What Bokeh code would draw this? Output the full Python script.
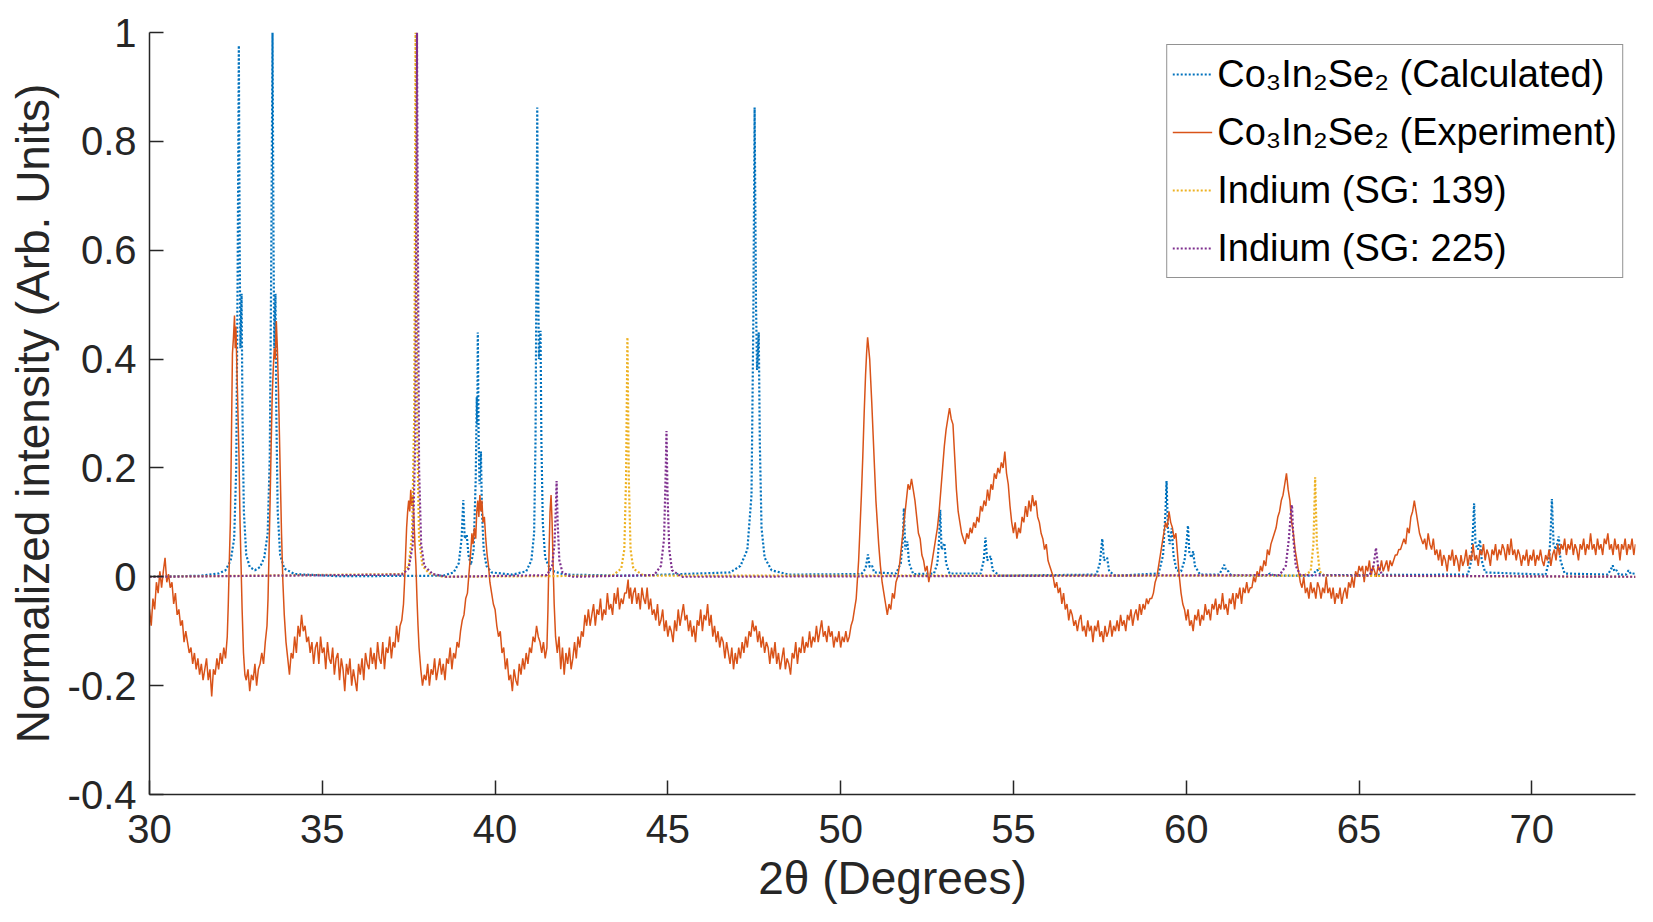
from bokeh.plotting import figure
from bokeh.models import Range1d, FixedTicker, CustomJSTickFormatter, Legend, LegendItem
from bokeh.embed import file_html
from bokeh.resources import INLINE

# ---------------- data ----------------
x_ticks = [30, 35, 40, 45, 50, 55, 60, 65, 70]
y_ticks = [-0.4, -0.2, 0, 0.2, 0.4, 0.6, 0.8, 1.0]

series_labels = ["Co\u2083In\u2082Se\u2082 (Calculated)", "Co\u2083In\u2082Se\u2082 (Experiment)",
                 "Indium (SG: 139)", "Indium (SG: 225)"]

# Co3In2Se2 calculated pattern (2theta, intensity)
calc_xy = [
    (30.0, 0.0), (31.5, 0.002), (32.0, 0.006), (32.2, 0.012), (32.35, 0.03), (32.45, 0.07),
    (32.51, 0.2), (32.55, 0.55), (32.585, 0.976), (32.61, 0.6), (32.63, 0.42), (32.665, 0.52),
    (32.69, 0.3), (32.73, 0.12), (32.8, 0.04), (32.9, 0.018), (33.05, 0.012), (33.2, 0.018),
    (33.32, 0.035), (33.42, 0.08), (33.48, 0.22), (33.52, 0.55), (33.56, 1.0), (33.59, 0.6),
    (33.61, 0.42), (33.645, 0.52), (33.67, 0.3), (33.71, 0.12), (33.78, 0.04), (33.9, 0.015),
    (34.2, 0.005), (35.5, 0.001), (38.5, 0.002), (38.8, 0.008), (38.95, 0.025), (39.03, 0.07),
    (39.08, 0.141), (39.12, 0.07), (39.18, 0.077), (39.23, 0.04), (39.3, 0.022), (39.38, 0.05),
    (39.44, 0.18), (39.47, 0.33), (39.485, 0.28), (39.50, 0.449), (39.525, 0.25), (39.55, 0.17),
    (39.59, 0.23), (39.62, 0.12), (39.67, 0.05), (39.75, 0.02), (39.9, 0.008), (40.5, 0.004),
    (40.9, 0.01), (41.05, 0.03), (41.13, 0.08), (41.17, 0.25), (41.2, 0.6), (41.22, 0.862),
    (41.245, 0.55), (41.27, 0.4), (41.315, 0.452), (41.34, 0.25), (41.38, 0.1), (41.45, 0.035),
    (41.6, 0.012), (42.0, 0.004), (44.0, 0.002), (46.8, 0.008), (47.1, 0.02), (47.3, 0.05),
    (47.42, 0.15), (47.47, 0.45), (47.51, 0.862), (47.55, 0.5), (47.58, 0.38), (47.63, 0.449),
    (47.66, 0.25), (47.71, 0.09), (47.8, 0.035), (48.0, 0.012), (48.5, 0.004), (50.6, 0.005),
    (50.72, 0.015), (50.79, 0.041), (50.84, 0.018), (50.91, 0.02), (50.97, 0.008), (51.6, 0.006),
    (51.74, 0.025), (51.8, 0.07), (51.83, 0.126), (51.87, 0.05), (51.93, 0.065), (51.98, 0.025),
    (52.1, 0.005), (52.7, 0.006), (52.8, 0.025), (52.85, 0.07), (52.88, 0.123), (52.92, 0.05),
    (53.0, 0.062), (53.05, 0.025), (53.15, 0.006), (54.05, 0.006), (54.14, 0.03), (54.19, 0.072),
    (54.24, 0.03), (54.34, 0.038), (54.4, 0.012), (54.6, 0.002), (57.4, 0.004), (57.5, 0.025),
    (57.57, 0.07), (57.62, 0.03), (57.71, 0.035), (57.77, 0.01), (57.95, 0.002), (59.2, 0.006),
    (59.33, 0.04), (59.4, 0.12), (59.43, 0.176), (59.47, 0.09), (59.52, 0.06), (59.58, 0.089),
    (59.63, 0.04), (59.72, 0.012), (59.85, 0.01), (59.95, 0.03), (60.02, 0.07), (60.05, 0.094),
    (60.09, 0.045), (60.15, 0.035), (60.2, 0.047), (60.25, 0.02), (60.4, 0.004), (60.95, 0.004),
    (61.05, 0.015), (61.1, 0.022), (61.15, 0.012), (61.22, 0.01), (61.3, 0.002), (62.3, 0.002),
    (62.43, 0.006), (62.55, 0.002), (63.65, 0.002), (63.74, 0.01), (63.79, 0.013), (63.9, 0.003),
    (68.15, 0.004), (68.25, 0.03), (68.3, 0.09), (68.33, 0.135), (68.37, 0.06), (68.44, 0.05),
    (68.5, 0.068), (68.55, 0.03), (68.65, 0.008), (70.4, 0.004), (70.5, 0.03), (70.55, 0.09),
    (70.58, 0.143), (70.63, 0.06), (70.7, 0.05), (70.78, 0.074), (70.83, 0.03), (70.95, 0.006),
    (72.2, 0.004), (72.3, 0.015), (72.34, 0.021), (72.39, 0.01), (72.45, 0.012), (72.52, 0.004),
    (72.72, 0.004), (72.8, 0.012), (72.87, 0.005), (72.95, 0.006), (73.0, 0.007),
]

# Co3In2Se2 measured pattern (2theta, intensity)
exp_xy = [
    (30.00,-0.06),(30.05,-0.09),(30.10,-0.04),(30.15,-0.06),(30.20,-0.01),(30.25,-0.03),(30.30,0.01),
    (30.35,-0.02),(30.40,0.01),(30.45,0.035),(30.50,-0.01),
    (30.55,0.005),(30.60,-0.02),(30.65,-0.01),(30.70,-0.05),(30.75,-0.03),(30.80,-0.07),(30.85,-0.06),
    (30.90,-0.09),(30.95,-0.08),(31.00,-0.12),(31.05,-0.10),(31.10,-0.12),(31.15,-0.14),(31.20,-0.13),
    (31.25,-0.16),(31.30,-0.14),(31.35,-0.17),(31.40,-0.15),(31.45,-0.18),(31.50,-0.16),(31.55,-0.19),
    (31.60,-0.17),(31.65,-0.15),(31.70,-0.19),(31.75,-0.17),(31.80,-0.22),(31.85,-0.17),(31.90,-0.18),
    (31.95,-0.15),(32.00,-0.17),(32.05,-0.14),(32.10,-0.16),(32.15,-0.13),(32.20,-0.15),(32.25,-0.11),
    (32.28,-0.05),(32.31,0.03),(32.34,0.10),(32.37,0.25),(32.40,0.41),(32.43,0.44),(32.46,0.48),
    (32.48,0.42),(32.50,0.46),(32.53,0.38),(32.56,0.30),(32.59,0.22),(32.62,0.10),(32.65,0.02),
    (32.68,-0.06),
    (32.72,-0.14),(32.76,-0.18),(32.80,-0.19),(32.85,-0.17),(32.90,-0.21),(32.95,-0.18),(33.00,-0.19),
    (33.05,-0.16),(33.10,-0.20),(33.15,-0.17),(33.20,-0.16),(33.25,-0.14),(33.30,-0.16),(33.35,-0.12),
    (33.40,-0.09),(33.43,-0.04),
    (33.46,0.05),(33.49,0.14),(33.52,0.24),(33.55,0.33),(33.58,0.38),(33.61,0.42),(33.64,0.40),
    (33.67,0.47),(33.70,0.42),(33.73,0.35),(33.76,0.26),(33.79,0.17),(33.82,0.08),(33.86,-0.01),
    (33.90,-0.07),(33.95,-0.12),
    (34.00,-0.15),(34.05,-0.18),(34.10,-0.14),(34.15,-0.15),(34.20,-0.11),(34.25,-0.14),(34.30,-0.09),
    (34.35,-0.11),(34.40,-0.07),(34.45,-0.10),(34.50,-0.09),(34.55,-0.12),(34.60,-0.11),(34.65,-0.14),
    (34.70,-0.12),(34.75,-0.16),(34.80,-0.13),(34.85,-0.12),(34.90,-0.16),(34.95,-0.11),(35.00,-0.14),
    (35.05,-0.13),(35.10,-0.17),(35.15,-0.12),(35.20,-0.15),(35.25,-0.16),(35.30,-0.13),(35.35,-0.18),
    (35.40,-0.15),(35.45,-0.14),(35.50,-0.19),(35.55,-0.15),(35.60,-0.17),(35.65,-0.21),(35.70,-0.16),
    (35.75,-0.18),(35.80,-0.15),(35.85,-0.20),(35.90,-0.17),(35.95,-0.19),(36.00,-0.21),(36.05,-0.16),
    (36.10,-0.18),(36.15,-0.15),(36.20,-0.19),(36.25,-0.14),(36.30,-0.16),(36.35,-0.17),(36.40,-0.13),
    (36.45,-0.16),(36.50,-0.14),(36.55,-0.17),(36.60,-0.12),(36.65,-0.15),(36.70,-0.16),(36.75,-0.12),
    (36.80,-0.17),(36.85,-0.13),(36.90,-0.14),(36.95,-0.11),(37.00,-0.15),(37.05,-0.12),(37.10,-0.13),
    (37.15,-0.09),(37.20,-0.12),(37.25,-0.09),(37.30,-0.08),(37.35,-0.05),
    (37.38,-0.01),(37.41,0.04),(37.44,0.09),(37.47,0.12),(37.50,0.14),(37.53,0.12),(37.56,0.16),
    (37.59,0.13),(37.62,0.15),(37.65,0.11),(37.68,0.06),(37.71,0.02),(37.74,-0.04),(37.77,-0.09),
    (37.80,-0.13),(37.85,-0.17),(37.90,-0.20),(37.95,-0.18),(38.00,-0.19),(38.05,-0.16),(38.10,-0.20),
    (38.15,-0.17),(38.20,-0.18),(38.25,-0.15),(38.30,-0.19),(38.35,-0.17),(38.40,-0.15),(38.45,-0.18),
    (38.50,-0.16),(38.55,-0.19),(38.60,-0.15),(38.65,-0.16),(38.70,-0.13),(38.75,-0.17),(38.80,-0.14),
    (38.85,-0.15),(38.90,-0.12),(38.95,-0.13),(39.00,-0.10),(39.05,-0.08),
    (39.10,-0.07),(39.15,-0.04),(39.20,-0.03),(39.25,0.01),(39.30,0.05),(39.33,0.08),(39.36,0.06),
    (39.40,0.09),(39.44,0.07),(39.47,0.12),(39.50,0.14),(39.53,0.11),(39.56,0.15),(39.59,0.12),
    (39.62,0.14),(39.65,0.10),(39.69,0.11),(39.73,0.07),(39.77,0.04),(39.81,0.02),(39.85,-0.01),
    (39.90,-0.03),(39.95,-0.05),
    (40.00,-0.06),(40.05,-0.09),(40.10,-0.11),(40.15,-0.10),(40.20,-0.14),(40.25,-0.13),(40.30,-0.17),
    (40.35,-0.15),(40.40,-0.19),(40.45,-0.18),(40.50,-0.21),(40.55,-0.17),(40.60,-0.19),(40.65,-0.20),
    (40.70,-0.16),(40.75,-0.18),(40.80,-0.15),(40.85,-0.17),(40.90,-0.14),(40.95,-0.16),(41.00,-0.13),
    (41.05,-0.14),(41.10,-0.11),(41.15,-0.12),(41.20,-0.09),(41.25,-0.11),(41.30,-0.12),(41.35,-0.14),
    (41.40,-0.12),(41.45,-0.15),(41.50,-0.13),
    (41.53,-0.06),(41.56,0.04),(41.59,0.12),(41.62,0.15),(41.65,0.10),(41.68,0.02),(41.71,-0.05),
    (41.75,-0.11),(41.80,-0.14),(41.85,-0.11),(41.90,-0.17),(41.95,-0.13),
    (42.00,-0.18),(42.05,-0.14),(42.10,-0.16),(42.15,-0.13),(42.20,-0.17),(42.25,-0.15),(42.30,-0.12),
    (42.35,-0.15),(42.40,-0.11),(42.45,-0.13),(42.50,-0.10),(42.55,-0.11),(42.60,-0.07),(42.65,-0.09),
    (42.70,-0.06),(42.75,-0.09),(42.80,-0.07),(42.85,-0.05),(42.90,-0.09),(42.95,-0.06),(43.00,-0.07),
    (43.05,-0.04),(43.10,-0.08),(43.15,-0.06),(43.20,-0.07),(43.25,-0.03),(43.30,-0.06),(43.35,-0.05),
    (43.40,-0.07),(43.45,-0.03),(43.50,-0.05),(43.55,-0.02),(43.60,-0.06),(43.65,-0.04),(43.70,-0.05),
    (43.75,-0.03),(43.80,-0.03),
    (43.85,-0.005),(43.88,-0.04),(43.92,-0.02),(43.96,-0.05),(44.00,-0.03),(44.05,-0.02),(44.10,-0.05),
    (44.15,-0.03),(44.20,-0.06),(44.25,-0.02),(44.30,-0.04),(44.35,-0.05),(44.40,-0.02),(44.45,-0.06),
    (44.50,-0.04),(44.55,-0.07),(44.60,-0.06),(44.65,-0.08),(44.70,-0.05),(44.75,-0.09),(44.80,-0.08),
    (44.85,-0.06),(44.90,-0.10),(44.95,-0.08),(45.00,-0.11),(45.05,-0.09),(45.10,-0.10),(45.15,-0.12),
    (45.20,-0.08),(45.25,-0.10),(45.30,-0.06),(45.35,-0.09),(45.40,-0.07),(45.45,-0.05),(45.50,-0.08),
    (45.55,-0.07),(45.60,-0.10),(45.65,-0.08),(45.70,-0.11),(45.75,-0.09),(45.80,-0.12),(45.85,-0.08),
    (45.90,-0.09),(45.95,-0.06),(46.00,-0.10),(46.05,-0.07),(46.10,-0.08),(46.15,-0.05),(46.20,-0.09),
    (46.25,-0.07),(46.30,-0.11),(46.35,-0.09),(46.40,-0.12),(46.45,-0.10),(46.50,-0.13),(46.55,-0.11),
    (46.60,-0.12),(46.65,-0.15),(46.70,-0.12),(46.75,-0.14),(46.80,-0.16),(46.85,-0.13),(46.90,-0.17),
    (46.95,-0.14),(47.00,-0.16),(47.05,-0.13),(47.10,-0.15),(47.15,-0.12),(47.20,-0.14),(47.25,-0.11),
    (47.30,-0.13),(47.35,-0.10),(47.40,-0.11),(47.45,-0.08),(47.50,-0.10),(47.55,-0.09),(47.60,-0.12),
    (47.65,-0.10),(47.70,-0.13),(47.75,-0.11),(47.80,-0.14),(47.85,-0.12),(47.90,-0.13),(47.95,-0.16),
    (48.00,-0.13),(48.05,-0.15),(48.10,-0.12),(48.15,-0.16),(48.20,-0.14),(48.25,-0.17),(48.30,-0.15),
    (48.35,-0.13),(48.40,-0.17),(48.45,-0.15),(48.50,-0.16),(48.55,-0.18),(48.60,-0.14),(48.65,-0.15),
    (48.70,-0.12),(48.75,-0.16),(48.80,-0.13),(48.85,-0.14),(48.90,-0.11),(48.95,-0.14),(49.00,-0.12),
    (49.05,-0.13),(49.10,-0.10),(49.15,-0.13),(49.20,-0.11),(49.25,-0.12),(49.30,-0.09),(49.35,-0.12),
    (49.40,-0.10),(49.45,-0.08),(49.50,-0.11),(49.55,-0.10),(49.60,-0.12),(49.65,-0.09),(49.70,-0.11),
    (49.75,-0.10),(49.80,-0.13),(49.85,-0.11),(49.90,-0.12),(49.95,-0.10),(50.00,-0.13),(50.05,-0.11),
    (50.10,-0.12),(50.15,-0.10),(50.20,-0.12),(50.25,-0.11),(50.30,-0.09),
    (50.35,-0.08),(50.40,-0.06),(50.45,-0.04),(50.48,-0.01),(50.52,0.03),(50.56,0.09),
    (50.60,0.15),(50.64,0.22),(50.68,0.30),(50.72,0.37),(50.75,0.41),(50.78,0.44),(50.81,0.42),
    (50.84,0.40),(50.87,0.36),(50.90,0.32),(50.94,0.26),(50.98,0.20),(51.02,0.14),(51.06,0.10),
    (51.10,0.06),(51.15,0.02),(51.20,-0.01),(51.25,-0.03),(51.30,-0.05),(51.35,-0.07),(51.40,-0.05),
    (51.45,-0.06),(51.50,-0.03),(51.55,-0.04),(51.60,-0.01),(51.65,0.00),(51.70,0.02),(51.75,0.05),
    (51.80,0.08),(51.85,0.11),(51.90,0.14),(51.95,0.17),(52.00,0.16),(52.05,0.18),(52.10,0.16),
    (52.15,0.14),(52.20,0.11),(52.25,0.08),(52.30,0.07),(52.35,0.04),(52.40,0.03),(52.45,0.01),
    (52.50,0.02),(52.55,-0.01),(52.60,0.01),(52.65,0.03),(52.70,0.05),(52.75,0.07),(52.80,0.09),
    (52.85,0.12),(52.90,0.16),(52.95,0.20),(53.00,0.24),(53.05,0.27),(53.10,0.29),(53.15,0.31),
    (53.20,0.29),(53.25,0.28),(53.30,0.22),(53.35,0.16),(53.40,0.12),(53.45,0.10),(53.50,0.08),
    (53.55,0.07),(53.60,0.06),(53.65,0.08),(53.70,0.07),(53.75,0.09),(53.80,0.08),(53.85,0.10),
    (53.90,0.09),(53.95,0.11),(54.00,0.10),(54.05,0.13),(54.10,0.12),(54.15,0.14),(54.20,0.13),
    (54.25,0.16),(54.30,0.14),(54.35,0.17),(54.40,0.16),(54.45,0.19),(54.50,0.18),(54.55,0.20),
    (54.60,0.19),(54.65,0.21),(54.70,0.20),(54.75,0.23),(54.80,0.19),(54.85,0.17),(54.90,0.13),
    (54.95,0.10),(55.00,0.08),(55.05,0.10),(55.10,0.07),(55.15,0.09),(55.20,0.08),(55.25,0.11),
    (55.30,0.10),(55.35,0.13),(55.40,0.11),(55.45,0.14),(55.50,0.12),(55.55,0.15),(55.60,0.13),
    (55.65,0.14),(55.70,0.11),(55.75,0.10),(55.80,0.08),(55.85,0.07),(55.90,0.05),(55.95,0.06),
    (56.00,0.03),(56.05,0.02),(56.10,0.01),(56.15,0.00),(56.20,-0.02),(56.25,-0.01),(56.30,-0.03),
    (56.35,-0.02),
    (56.40,-0.05),(56.45,-0.03),(56.50,-0.06),(56.55,-0.05),(56.60,-0.08),(56.65,-0.06),(56.70,-0.07),
    (56.75,-0.09),(56.80,-0.08),(56.85,-0.10),(56.90,-0.08),(56.95,-0.07),(57.00,-0.10),(57.05,-0.09),
    (57.10,-0.11),(57.15,-0.08),(57.20,-0.10),(57.25,-0.09),(57.30,-0.12),(57.35,-0.09),(57.40,-0.10),
    (57.45,-0.08),(57.50,-0.11),(57.55,-0.10),(57.60,-0.12),(57.65,-0.09),(57.70,-0.11),(57.75,-0.10),
    (57.80,-0.08),(57.85,-0.11),(57.90,-0.09),(57.95,-0.10),(58.00,-0.08),(58.05,-0.10),(58.10,-0.07),
    (58.15,-0.09),(58.20,-0.08),(58.25,-0.10),(58.30,-0.07),(58.35,-0.08),(58.40,-0.06),(58.45,-0.09),
    (58.50,-0.07),(58.55,-0.06),(58.60,-0.08),(58.65,-0.05),(58.70,-0.07),(58.75,-0.05),(58.80,-0.06),
    (58.85,-0.04),(58.90,-0.05),(58.95,-0.04),
    (59.00,-0.04),(59.05,-0.03),(59.10,-0.01),(59.15,0.00),(59.20,0.02),(59.25,0.04),(59.30,0.06),
    (59.35,0.08),(59.40,0.10),(59.45,0.09),(59.50,0.12),(59.55,0.10),(59.60,0.09),(59.65,0.07),
    (59.70,0.08),(59.75,0.04),(59.80,0.00),(59.85,-0.03),(59.90,-0.05),(59.95,-0.06),
    (60.00,-0.08),(60.05,-0.06),(60.10,-0.09),(60.15,-0.08),(60.20,-0.10),(60.25,-0.07),(60.30,-0.08),
    (60.35,-0.06),(60.40,-0.09),(60.45,-0.07),(60.50,-0.08),(60.55,-0.05),(60.60,-0.07),(60.65,-0.06),
    (60.70,-0.08),(60.75,-0.05),(60.80,-0.06),(60.85,-0.04),(60.90,-0.07),(60.95,-0.05),(61.00,-0.06),
    (61.05,-0.03),(61.10,-0.06),(61.15,-0.05),(61.20,-0.07),(61.25,-0.04),(61.30,-0.05),(61.35,-0.03),
    (61.40,-0.06),(61.45,-0.03),(61.50,-0.04),(61.55,-0.02),(61.60,-0.05),(61.65,-0.02),(61.70,-0.03),
    (61.75,-0.01),(61.80,-0.03),(61.85,-0.02),(61.90,-0.02),
    (61.95,0.00),(62.00,-0.01),(62.05,0.01),(62.10,0.00),(62.15,0.02),(62.20,0.01),(62.25,0.03),
    (62.30,0.02),(62.35,0.05),(62.40,0.04),(62.45,0.06),(62.50,0.07),(62.55,0.08),(62.60,0.09),
    (62.65,0.11),(62.70,0.12),(62.75,0.14),(62.80,0.15),(62.85,0.17),(62.90,0.19),(62.95,0.16),
    (63.00,0.14),(63.05,0.10),(63.10,0.08),(63.15,0.05),(63.20,0.03),(63.25,0.01),(63.30,-0.01),
    (63.35,-0.02),(63.40,0.00),(63.45,-0.03),(63.50,-0.02),(63.55,-0.04),(63.60,-0.01),(63.65,-0.03),
    (63.70,-0.02),(63.75,-0.04),(63.80,-0.01),(63.85,-0.02),(63.90,-0.04),(63.95,-0.02),(64.00,-0.03),
    (64.05,0.00),(64.10,-0.03),(64.15,-0.02),(64.20,-0.04),(64.25,-0.02),(64.30,-0.05),(64.35,-0.03),
    (64.40,-0.04),(64.45,-0.02),(64.50,-0.05),(64.55,-0.03),(64.60,-0.02),(64.65,-0.04),(64.70,-0.01),
    (64.75,-0.02),(64.80,0.00),(64.85,-0.02),(64.90,0.01),(64.95,0.00),(65.00,0.02),(65.05,0.01),
    (65.10,0.02),(65.15,-0.01),(65.20,0.02),(65.25,0.01),(65.30,0.03),(65.35,0.00),(65.40,0.02),
    (65.45,0.01),(65.50,0.00),(65.55,0.02),(65.60,0.01),(65.65,0.03),(65.70,0.01),(65.75,0.02),
    (65.80,0.03),(65.85,0.01),(65.90,0.03),(65.95,0.02),
    (66.00,0.03),(66.05,0.04),(66.10,0.04),(66.15,0.05),(66.20,0.05),(66.25,0.06),(66.30,0.07),
    (66.35,0.06),(66.40,0.09),(66.45,0.08),(66.50,0.11),(66.55,0.12),(66.60,0.14),(66.65,0.12),
    (66.70,0.10),(66.75,0.08),(66.80,0.07),
    (66.85,0.06),(66.90,0.07),(66.95,0.05),(67.00,0.08),(67.05,0.06),(67.10,0.05),(67.15,0.07),
    (67.20,0.04),(67.25,0.05),(67.30,0.03),(67.35,0.05),(67.40,0.02),(67.45,0.04),(67.50,0.03),
    (67.55,0.01),(67.60,0.04),(67.65,0.03),(67.70,0.05),(67.75,0.02),(67.80,0.04),(67.85,0.03),
    (67.90,0.01),(67.95,0.04),(68.00,0.02),(68.05,0.03),(68.10,0.05),(68.15,0.02),(68.20,0.04),
    (68.25,0.03),(68.30,0.06),(68.35,0.03),(68.40,0.04),(68.45,0.02),(68.50,0.05),(68.55,0.04),
    (68.60,0.06),(68.65,0.03),(68.70,0.05),(68.75,0.04),(68.80,0.02),(68.85,0.05),(68.90,0.04),
    (68.95,0.06),(69.00,0.03),(69.05,0.05),(69.10,0.04),(69.15,0.06),(69.20,0.05),(69.25,0.03),
    (69.30,0.06),(69.35,0.04),(69.40,0.07),(69.45,0.04),(69.50,0.05),(69.55,0.03),(69.60,0.05),
    (69.65,0.04),(69.70,0.02),(69.75,0.04),(69.80,0.03),(69.85,0.05),(69.90,0.02),(69.95,0.04),
    (70.00,0.03),(70.05,0.05),(70.10,0.02),(70.15,0.04),(70.20,0.03),(70.25,0.05),(70.30,0.03),
    (70.35,0.02),(70.40,0.04),(70.45,0.03),(70.50,0.05),(70.55,0.02),(70.60,0.04),(70.65,0.05),
    (70.70,0.03),(70.75,0.06),(70.80,0.04),(70.85,0.06),(70.90,0.05),(70.95,0.07),(71.00,0.04),
    (71.05,0.06),(71.10,0.05),(71.15,0.07),(71.20,0.04),(71.25,0.06),(71.30,0.05),(71.35,0.03),
    (71.40,0.06),(71.45,0.05),(71.50,0.07),(71.55,0.04),(71.60,0.06),(71.65,0.05),(71.70,0.08),
    (71.75,0.05),(71.80,0.06),(71.85,0.04),(71.90,0.07),(71.95,0.05),(72.00,0.06),(72.05,0.04),
    (72.10,0.07),(72.15,0.06),(72.20,0.08),(72.25,0.05),(72.30,0.06),(72.35,0.04),(72.40,0.07),
    (72.45,0.05),(72.50,0.06),(72.55,0.03),(72.60,0.06),(72.65,0.05),(72.70,0.07),(72.75,0.04),
    (72.80,0.06),(72.85,0.05),(72.90,0.07),(72.95,0.04),(73.00,0.06),
]

# Indium, space group 139
in139_xy = [
    (30.0, 0.0), (37.3, 0.005), (37.5, 0.02), (37.6, 0.08), (37.66, 0.3), (37.69, 0.8), (37.70, 1.0),
    (37.72, 0.7), (37.75, 0.25), (37.8, 0.07), (37.9, 0.02), (38.1, 0.006), (38.5, 0.0),
    (43.4, 0.002), (43.65, 0.015), (43.74, 0.05), (43.79, 0.18), (43.83, 0.44), (43.87, 0.18),
    (43.92, 0.05), (44.0, 0.015), (44.3, 0.002), (63.4, 0.002), (63.6, 0.01), (63.68, 0.06),
    (63.73, 0.183), (63.78, 0.06), (63.86, 0.01), (64.0, 0.002), (73.0, 0.0),
]

# Indium, space group 225
in225_xy = [
    (30.0, 0.0), (37.3, 0.004), (37.5, 0.015), (37.62, 0.06), (37.69, 0.25), (37.72, 0.7),
    (37.74, 1.0), (37.76, 0.7), (37.8, 0.2), (37.86, 0.06), (37.95, 0.02), (38.2, 0.005),
    (38.6, 0.0), (41.5, 0.003), (41.65, 0.02), (41.72, 0.06), (41.76, 0.13), (41.78, 0.176),
    (41.81, 0.1), (41.86, 0.03), (41.95, 0.008), (42.2, 0.0), (44.6, 0.003), (44.8, 0.02),
    (44.89, 0.07), (44.94, 0.2), (44.96, 0.268), (44.99, 0.15), (45.04, 0.05), (45.12, 0.012),
    (45.4, 0.0), (62.7, 0.003), (62.88, 0.02), (62.97, 0.07), (63.03, 0.12), (63.06, 0.132),
    (63.1, 0.07), (63.17, 0.02), (63.3, 0.003), (65.3, 0.002), (65.42, 0.02), (65.49, 0.053),
    (65.55, 0.02), (65.68, 0.002), (73.0, 0.0),
]

# ---------------- styling ----------------
FONT = "Liberation Sans"
AXIS_COLOR = "#262626"
BLUE, ORANGE, YELLOW, PURPLE = "#0072BD", "#D95319", "#EDB120", "#7E2F8E"

p = figure(width=1637, height=906, output_backend="svg", toolbar_location=None,
           x_range=Range1d(30, 73), y_range=Range1d(-0.4, 1.0),
           min_border_left=149, min_border_right=2, min_border_top=32, min_border_bottom=112)
p.background_fill_color = "white"
p.border_fill_color = "white"
p.outline_line_color = None
p.xgrid.visible = False
p.ygrid.visible = False


def unpack(pts):
    return [a for a, _ in pts], [b for _, b in pts]


cx, cy = unpack(calc_xy)
ex, ey = unpack(exp_xy)
ix1, iy1 = unpack(in139_xy)
ix2, iy2 = unpack(in225_xy)

r_calc = p.line(cx, cy, line_color=BLUE, line_width=2.2, line_dash="2 2")
r_exp = p.line(ex, ey, line_color=ORANGE, line_width=1.5)
r_139 = p.line(ix1, iy1, line_color=YELLOW, line_width=2.2, line_dash="2 2")
r_225 = p.line(ix2, iy2, line_color=PURPLE, line_width=2.2, line_dash="2 2")

for ax in (p.xaxis[0], p.yaxis[0]):
    ax.axis_line_color = AXIS_COLOR
    ax.axis_line_width = 1.5
    ax.major_tick_line_color = AXIS_COLOR
    ax.major_tick_line_width = 1.5
    ax.major_tick_in = 14
    ax.major_tick_out = 0
    ax.minor_tick_line_color = None
    ax.major_label_text_font = FONT
    ax.major_label_text_font_size = "40px"
    ax.major_label_text_color = AXIS_COLOR
    ax.axis_label_text_font = FONT
    ax.axis_label_text_font_size = "46px"
    ax.axis_label_text_font_style = "normal"
    ax.axis_label_text_color = AXIS_COLOR

p.xaxis[0].ticker = FixedTicker(ticks=x_ticks)
p.yaxis[0].ticker = FixedTicker(ticks=y_ticks)
p.yaxis[0].formatter = CustomJSTickFormatter(
    code="var s = tick.toFixed(1); if (s.endsWith('.0')) { s = s.slice(0, -2); } if (s === '-0') { s = '0'; } return s;")
p.xaxis[0].major_label_standoff = 20
p.yaxis[0].major_label_standoff = 13
p.xaxis[0].axis_label = "2\u03b8 (Degrees)"
p.yaxis[0].axis_label = "Normalized intensity (Arb. Units)"
p.xaxis[0].axis_label_standoff = 6
p.yaxis[0].axis_label_standoff = 6

legend = Legend(items=[
    LegendItem(label=series_labels[0], renderers=[r_calc]),
    LegendItem(label=series_labels[1], renderers=[r_exp]),
    LegendItem(label=series_labels[2], renderers=[r_139]),
    LegendItem(label=series_labels[3], renderers=[r_225]),
], location="top_right")
legend.margin = 12
legend.padding = 5
legend.spacing = 10
legend.label_height = 48
legend.glyph_height = 48
legend.glyph_width = 40
legend.label_standoff = 5
legend.label_text_font = FONT
legend.label_text_font_size = "38px"
legend.label_text_color = "black"
legend.border_line_color = AXIS_COLOR
legend.border_line_width = 1
legend.background_fill_color = "white"
legend.background_fill_alpha = 1.0
p.add_layout(legend)

open("out.html", "w").write(file_html(p, INLINE))
